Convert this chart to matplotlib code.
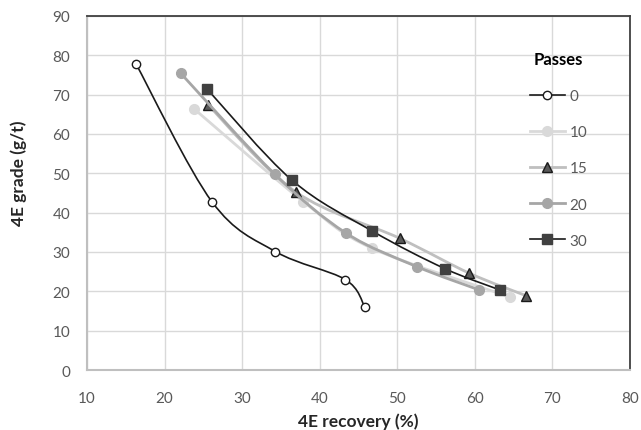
import matplotlib
matplotlib.use("Agg")
import matplotlib.pyplot as plt
import numpy as np
from matplotlib.path import Path
from matplotlib.patches import PathPatch
from matplotlib.lines import Line2D

plt.rcParams['font.family'] = ['Lato', 'DejaVu Sans']

# Data
passes = ["0", "10", "15", "20", "30"]
rec_0 = [16.3, 26.1, 34.3, 43.3, 45.8]
grade_0 = [77.9, 42.8, 30.1, 23.0, 16.1]
rec_10 = [23.8, 37.9, 46.8, 64.5]
grade_10 = [66.4, 42.8, 30.9, 18.6]
rec_15 = [25.6, 36.9, 50.3, 59.3, 66.6]
grade_15 = [67.4, 45.3, 33.5, 24.6, 18.9]
rec_20 = [22.1, 34.2, 43.4, 52.5, 60.5]
grade_20 = [75.4, 49.8, 34.8, 26.3, 20.4]
rec_30 = [25.5, 36.4, 46.8, 56.1, 63.3]
grade_30 = [71.4, 48.3, 35.3, 25.8, 20.3]

recs = [rec_0, rec_10, rec_15, rec_20, rec_30]
grades = [grade_0, grade_10, grade_15, grade_20, grade_30]

line_col = ["#1a1a1a", "#d9d9d9", "#bfbfbf", "#a6a6a6", "#1a1a1a"]
line_w = [1.2, 2.0, 2.0, 2.0, 1.2]
mk = ["o", "o", "^", "o", "s"]
mk_face = ["white", "#d9d9d9", "#595959", "#a6a6a6", "#404040"]
mk_edge = ["#1a1a1a", "#d9d9d9", "#1a1a1a", "#a6a6a6", "#404040"]
mk_size = [6, 7, 6.5, 7, 7]


def smooth_path(x, y):
    # Excel style smoothed line: cubic bezier segments through the points
    x = np.asarray(x, float)
    y = np.asarray(y, float)
    n = len(x)
    verts = [(x[0], y[0])]
    codes = [Path.MOVETO]
    for i in range(n - 1):
        p0 = max(i - 1, 0)
        p3 = min(i + 2, n - 1)
        c1 = (x[i] + (x[i + 1] - x[p0]) / 6, y[i] + (y[i + 1] - y[p0]) / 6)
        c2 = (x[i + 1] - (x[p3] - x[i]) / 6, y[i + 1] - (y[p3] - y[i]) / 6)
        verts += [c1, c2, (x[i + 1], y[i + 1])]
        codes += [Path.CURVE4] * 3
    return Path(verts, codes)


fig = plt.figure(figsize=(6.41, 4.31), dpi=100)
ax = fig.add_axes([0.1357, 0.1392, 0.8471, 0.8214])

handles = []
for i in range(len(passes)):
    z = 3 + i * 2
    ax.add_patch(PathPatch(smooth_path(recs[i], grades[i]), fill=False,
                           edgecolor=line_col[i], linewidth=line_w[i],
                           zorder=z, capstyle='round', joinstyle='round'))
    ax.plot(recs[i], grades[i], linestyle='none', marker=mk[i],
            markersize=mk_size[i], markerfacecolor=mk_face[i],
            markeredgecolor=mk_edge[i], markeredgewidth=1.0, zorder=z + 1)
    handles.append(Line2D([], [], color=line_col[i], linewidth=line_w[i],
                          marker=mk[i], markersize=mk_size[i],
                          markerfacecolor=mk_face[i], markeredgecolor=mk_edge[i]))

ax.set_xlim(10, 80)
ax.set_ylim(0, 90)
ax.set_xticks(np.arange(10, 81, 10))
ax.set_yticks(np.arange(0, 91, 10))
ax.grid(True, color="#d9d9d9", linewidth=1.0, zorder=0)
ax.set_axisbelow(True)
ax.tick_params(length=0, labelsize=11, labelcolor="#595959")
ax.tick_params(axis='x', pad=15)
ax.tick_params(axis='y', pad=12)

for s in ["top", "right"]:
    ax.spines[s].set_color("#404040")
    ax.spines[s].set_linewidth(1.3)
for s in ["left", "bottom"]:
    ax.spines[s].set_color("#bfbfbf")
    ax.spines[s].set_linewidth(1.5)

ax.set_xlabel("4E recovery (%)", fontsize=12.5, fontweight="bold", color="#262626")
ax.set_ylabel("4E grade (g/t)", fontsize=12.5, fontweight="bold", color="#262626")
ax.xaxis.set_label_coords(0.5, -0.121)
ax.yaxis.set_label_coords(-0.110, 0.559)

leg = ax.legend(handles, passes, loc="upper left", bbox_to_anchor=(0.79, 0.94),
                frameon=False, fontsize=11, title="Passes", labelspacing=1.45,
                handlelength=2.3, handletextpad=0.3)
leg.get_title().set_fontweight("bold")
leg.get_title().set_fontsize(12)
for t in leg.get_texts():
    t.set_color("#595959")

fig.savefig("out.png", dpi=100)
